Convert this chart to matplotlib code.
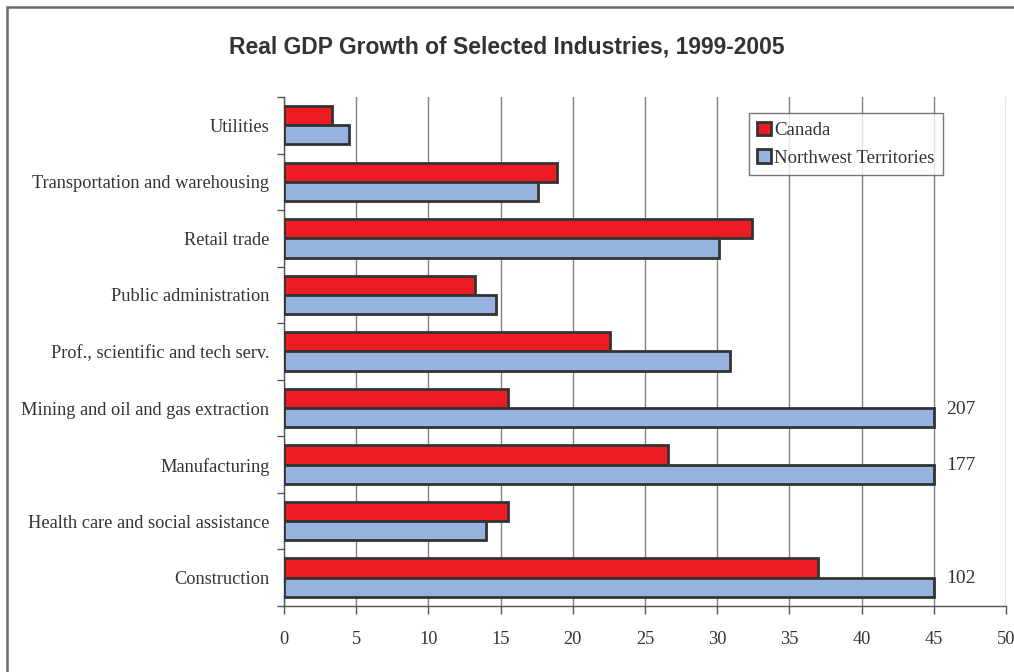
import matplotlib.pyplot as plt
import numpy as np
from matplotlib.patches import Rectangle

industries = ["Construction", "Health care and social assistance", "Manufacturing",
              "Mining and oil and gas extraction", "Prof., scientific and tech serv.",
              "Public administration", "Retail trade", "Transportation and warehousing",
              "Utilities"]
canada = [37.0, 15.5, 26.6, 15.5, 22.6, 13.2, 32.4, 18.9, 3.3]
nwt = [102, 14.0, 177, 207, 30.9, 14.7, 30.1, 17.6, 4.5]
cap = 45  # bars beyond this are cut off and labelled

serif = "Liberation Serif"
txt = "#333333"

fig = plt.figure(figsize=(10.14, 6.72), dpi=100)
ax = fig.add_axes([0.2801, 0.0982, 0.712, 0.7575])

y = np.arange(len(industries))
h = 0.34
nwt_arr = np.array(nwt, dtype=float)
ax.barh(y + h / 2, canada, height=h, color="#ED1C24", edgecolor="#333333",
        linewidth=2.0, label="Canada", zorder=3)
ax.barh(y - h / 2, np.minimum(nwt_arr, cap), height=h, color="#95B3DE",
        edgecolor="#333333", linewidth=2.0, label="Northwest Territories", zorder=3)

for yi, v in zip(y, nwt_arr):
    if v > cap:
        ax.text(cap + 0.85, yi - 0.02, f"{v:.0f}", va="center", ha="left",
                fontsize=14, family=serif, color=txt)

ax.set_xlim(0, 50)
ax.set_ylim(-0.5, len(industries) - 0.5)
ax.set_xticks(np.arange(0, 51, 5))
ax.set_yticks(y)
ax.set_yticklabels(industries, family=serif, fontsize=13.2, color=txt)
ax.set_yticks(np.arange(-0.5, len(industries), 1), minor=True)
ax.tick_params(axis="y", which="major", length=0, pad=10.5)
ax.tick_params(axis="y", which="minor", length=5, width=1, color="#555555", direction="out")
ax.tick_params(axis="x", length=6, width=1, color="#555555", pad=12,
               labelsize=13.2, labelcolor=txt)
for lab in ax.get_xticklabels():
    lab.set_family(serif)

ax.grid(axis="x", color="#808080", linewidth=1, zorder=0)
ax.spines["top"].set_visible(False)
ax.spines["right"].set_visible(False)
for s in ("left", "bottom"):
    ax.spines[s].set_color("#555555")
    ax.spines[s].set_linewidth(1)

leg = ax.legend(loc="upper left", bbox_to_anchor=(0.644, 0.968), prop={"family": serif, "size": 13.5},
                frameon=True, fancybox=False, edgecolor="#555555", handlelength=0.75,
                handleheight=0.75, handletextpad=0.15, borderpad=0.45, labelspacing=0.55,
                borderaxespad=0)
leg.get_frame().set_linewidth(1)
for t in leg.get_texts():
    t.set_color(txt)

fig.text(0.5, 0.93, "Real GDP Growth of Selected Industries, 1999-2005",
         ha="center", va="center", fontsize=16.5, fontweight="bold",
         family="Liberation Sans", color=txt)

fig.patches.append(Rectangle((7 / 1014, -0.05), 1.1, 0.05 + 1 - 7 / 672,
                             transform=fig.transFigure, fill=False,
                             edgecolor="#6a6a6a", linewidth=1.8))

fig.savefig("out.png", dpi=100)
